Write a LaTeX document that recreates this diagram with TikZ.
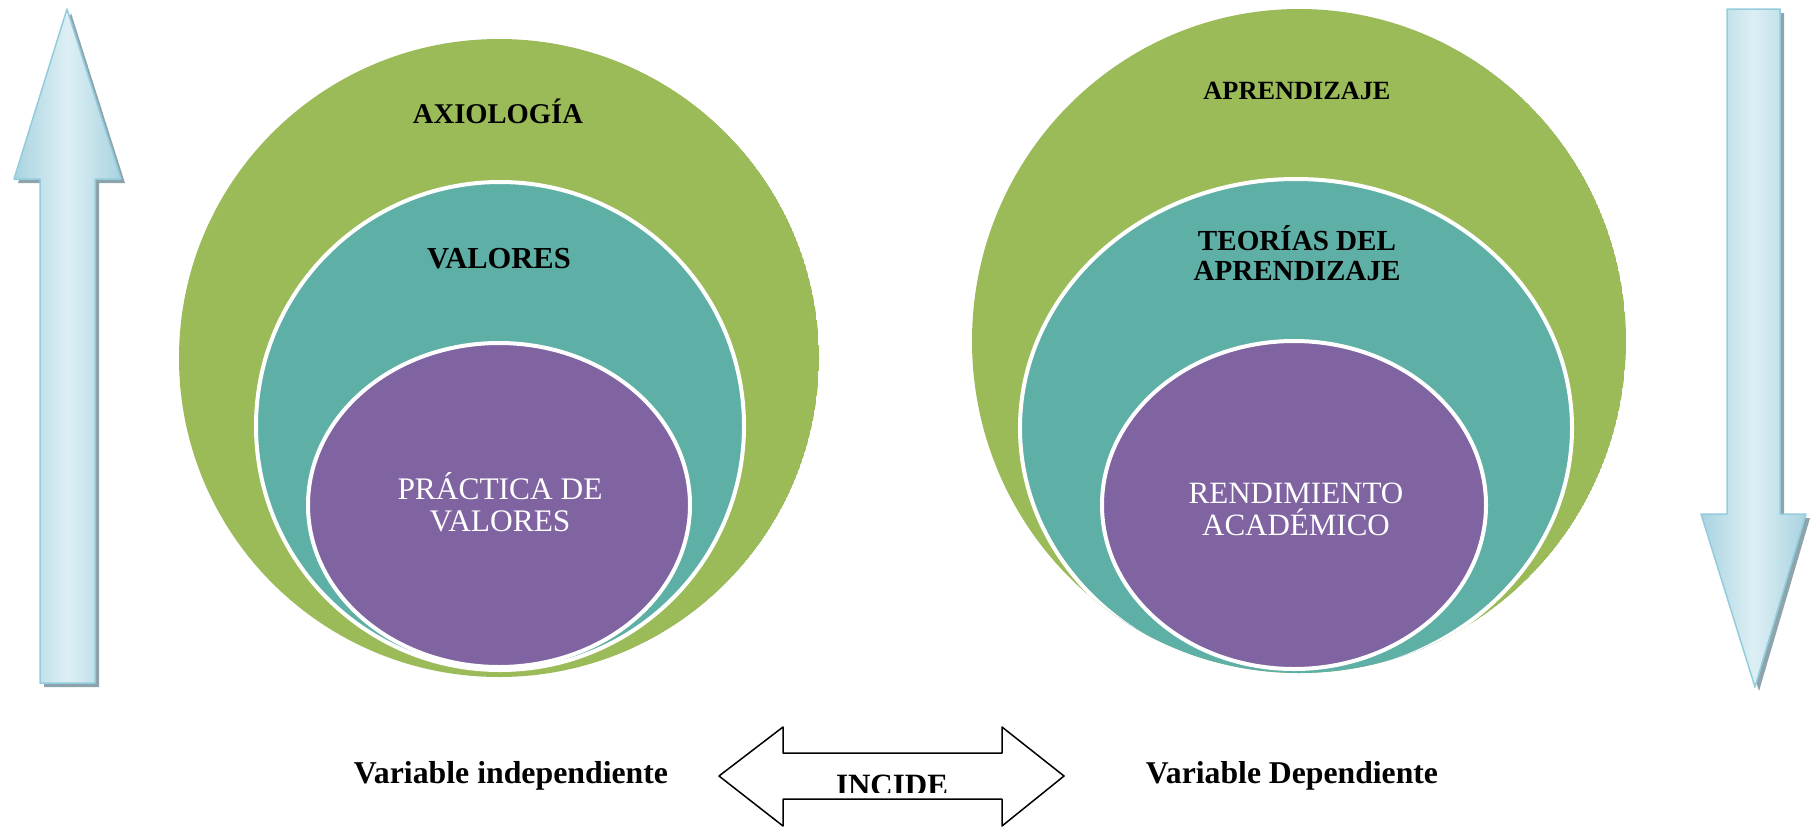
\documentclass[tikz,border=0pt]{standalone}
\usepackage{fontspec}
\setmainfont{Liberation Serif}
\usepackage{color}
\usetikzlibrary{arrows}
\definecolor{ringgreen}{HTML}{9BBB59}
\definecolor{ringteal}{HTML}{5EAFA6}
\definecolor{ringpurple}{HTML}{8064A2}
\definecolor{arrowedge}{HTML}{93CDDD}
\definecolor{arrowdark}{HTML}{A9D3E0}
\definecolor{arrowlight}{HTML}{DDEFF5}
\definecolor{arrowshadow}{HTML}{8EA4AC}

\begin{document}
\begin{tikzpicture}[line cap=round,line join=round,x=1pt,y=-1pt,
    ring/.style={draw=white,line width=4pt},
    bluearrow/.style={draw=arrowedge,line width=1.5pt,left color=arrowdark,right color=arrowdark,middle color=arrowlight},
    lblbold/.style={anchor=base,inner sep=0pt,font=\fontsize{#1}{#1}\selectfont\bfseries},
    lblwhite/.style={anchor=base,inner sep=0pt,text=white,font=\fontsize{#1}{#1}\selectfont}]
      \useasboundingbox (0,0) rectangle (1810,828);
      \fill[arrowshadow,shift={(4,4)}] (67,9) -- (121,179) -- (95,179) -- (95,683) -- (40,683) -- (40,179) -- (14,179) -- cycle;
      \draw[bluearrow] (67,9) -- (121,179) -- (95,179) -- (95,683) -- (40,683) -- (40,179) -- (14,179) -- cycle;
      \fill[arrowshadow,shift={(4,4)}] (1727,9) -- (1780,9) -- (1780,514) -- (1806,514) -- (1755,687) -- (1701,514) -- (1727,514) -- cycle;
      \draw[bluearrow] (1727,9) -- (1780,9) -- (1780,514) -- (1806,514) -- (1755,687) -- (1701,514) -- (1727,514) -- cycle;
      \begin{scope}
        \clip (499,358) ellipse (320 and 319);
        \fill[ringgreen] (499,358) ellipse (320 and 319);
        \draw[ring,fill=ringteal] (500,426) ellipse (244 and 244);
        \draw[ring,fill=ringpurple] (499,505) ellipse (191 and 162);
      \end{scope}
      \begin{scope}
        \clip (1299,341) ellipse (327 and 332);
        \fill[ringgreen] (1299,341) ellipse (327 and 332);
        \draw[ring,fill=ringteal] (1296,428) ellipse (276 and 249);
        \draw[ring,fill=ringpurple] (1294,505) ellipse (192 and 164);
      \end{scope}
      \node[lblbold=28.6] (axiologia) at (498,123) {AXIOLOGÍA};
      \node[lblbold=30.5] (valores) at (499,268) {VALORES};
      \node[lblwhite=31.4] (practica) at (500,499) {PRÁCTICA DE};
      \node[lblwhite=31.4] (practicab) at (500,531) {VALORES};
      \node[lblbold=26.3] (aprendizaje) at (1297,99) {APRENDIZAJE};
      \node[lblbold=29.1] (teorias) at (1297,250) {TEORÍAS DEL};
      \node[lblbold=29.1] (teoriasb) at (1297,280) {APRENDIZAJE};
      \node[lblwhite=31] (rendimiento) at (1296,503) {RENDIMIENTO};
      \node[lblwhite=31] (rendimientob) at (1296,535) {ACADÉMICO};
      \node[lblbold=31.8] (varindep) at (511,783) {Variable independiente};
      \node[lblbold=31.7] (vardep) at (1292,783) {Variable Dependiente};
      \draw[line width=1.5pt,fill=white] (719,776) -- (783,727) -- (783,753) -- (1002,753) -- (1002,727) -- (1064,776) -- (1002,826) -- (1002,799) -- (783,799) -- (783,826) -- cycle;
      \begin{scope}
        \clip (785,755) rectangle (1000,792);
        \node[lblbold=31] (incide) at (892,795.5) {INCIDE};
      \end{scope}
    \end{tikzpicture}
\end{document}
